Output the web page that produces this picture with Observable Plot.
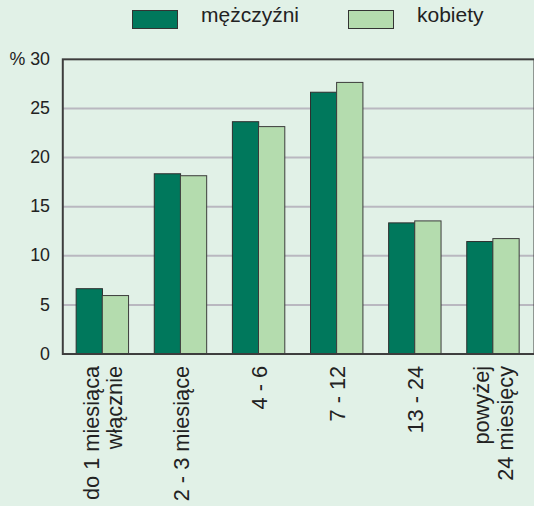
<!DOCTYPE html>
<html>
<head>
<meta charset="utf-8">
<script src="https://cdn.jsdelivr.net/npm/d3@7"></script>
<script src="https://cdn.jsdelivr.net/npm/@observablehq/plot@0.6"></script>
<style>
  html, body { margin: 0; padding: 0; background: #e1f1e7; overflow: hidden; width: 534px; height: 506px; }
  body { font-family: "Liberation Sans", Arial, sans-serif; color: #222; }
  #legend { position: relative; height: 44px; width: 534px; font-size: 21px; }
  .sw { position: absolute; top: 10px; width: 44px; height: 17px; border: 1px solid #333; }
  .lt { position: absolute; top: 3px; line-height: 24px; }
  #chart svg { display: block; overflow: visible; }
  g[aria-label="x-axis tick label"] { font-size: 22px; }
  g[aria-label="y-axis tick label"] { font-size: 18px; }
</style>
</head>
<body>
<div id="legend"></div>
<div id="chart"></div>
<script>
const categories = ["do 1 miesiąca\nwłącznie", "2 - 3 miesiące", "4 - 6", "7 - 12", "13 - 24", "powyżej\n24 miesięcy"];
const men = [6.6, 18.3, 23.6, 26.6, 13.3, 11.4];
const women = [5.9, 18.1, 23.1, 27.6, 13.5, 11.7];
const seriesNames = ["mężczyźni", "kobiety"];
const seriesColors = ["#00785c", "#b4dcae"];
const yTicks = [0, 5, 10, 15, 20, 25, 30];
const gridValues = [5, 10, 15, 20, 25];

const data = categories.map((c, i) => ({cat: c, men: men[i], women: women[i]}));

// legend
const legend = document.getElementById("legend");
const legendPos = [[132, 201], [348, 417]];
seriesNames.forEach((name, i) => {
  const sw = document.createElement("div");
  sw.className = "sw";
  sw.style.left = legendPos[i][0] + "px";
  sw.style.background = seriesColors[i];
  legend.appendChild(sw);
  const t = document.createElement("div");
  t.className = "lt";
  t.style.left = legendPos[i][1] + "px";
  t.textContent = name;
  legend.appendChild(t);
});

const half = 26.4;
const chart = Plot.plot({
  width: 540,
  height: 462,
  marginLeft: 63,
  marginRight: 0,
  marginTop: 15,
  marginBottom: 149,
  style: {background: "transparent", fontFamily: "'Liberation Sans', Arial, sans-serif", fontSize: "18px", color: "#222"},
  x: {domain: categories, paddingInner: 0.327, paddingOuter: 0.173, axis: null},
  y: {domain: [0, 30], axis: null},
  marks: [
    Plot.ruleY(gridValues, {stroke: "#b9b8c0", strokeWidth: 2}),
    Plot.barY(data, {x: "cat", y: "men", fill: seriesColors[0], stroke: "#2e2e2e", strokeWidth: 1, insetRight: half}),
    Plot.barY(data, {x: "cat", y: "women", fill: seriesColors[1], stroke: "#3a3a3a", strokeWidth: 1, insetLeft: half}),
    Plot.frame({stroke: "#3d3d3d", strokeWidth: 2}),
    Plot.axisY({ticks: yTicks, tickSize: 0, tickPadding: 13, fontSize: 18, tickFormat: d => d === 30 ? "% 30" : String(d)}),
    Plot.axisX({tickSize: 0, tickPadding: 12, tickRotate: -90, fontSize: 22, lineHeight: 1.1, label: null})
  ]
});
d3.select(chart).selectAll('g[aria-label="x-axis tick label"]').attr("font-size", 22).style("font-size", "22px");
d3.select(chart).selectAll('g[aria-label="y-axis tick label"]').attr("font-size", 18).style("font-size", "18px");
document.getElementById("chart").appendChild(chart);
</script>
</body>
</html>
